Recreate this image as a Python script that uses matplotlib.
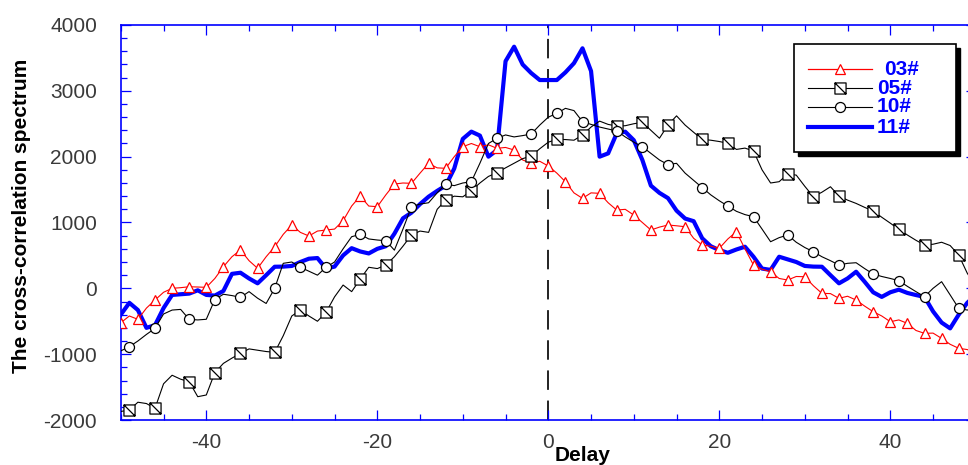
import numpy as np
import matplotlib
matplotlib.use("Agg")
import matplotlib.pyplot as plt
from matplotlib.path import Path
from matplotlib.patches import Rectangle
from matplotlib.lines import Line2D

plt.rcParams["axes.unicode_minus"] = False

# ---- data -------------------------------------------------------------
delay = np.arange(-50, 51)

s03 = [-523, -420, -471, -300, -178, -60, 0, 10, 24, 20,
       15, 150, 328, 480, 582, 420, 304, 480, 632, 820,
       962, 850, 795, 870, 886, 900, 1027, 1250, 1402, 1250,
       1240, 1420, 1584, 1600, 1595, 1750, 1899, 1830, 1823, 2000,
       2151, 2200, 2151, 2180, 2127, 2140, 2101, 1950, 1899, 1930,
       1858, 1750, 1619, 1450, 1367, 1450, 1443, 1300, 1189, 1200,
       1113, 1000, 886, 930, 962, 950, 936, 760, 658, 640,
       608, 750, 860, 600, 354, 290, 252, 150, 126, 180,
       176, 40, -76, -80, -152, -120, -178, -270, -355, -420,
       -507, -480, -532, -640, -684, -680, -760, -850, -911, -930, -980]

s05 = [-1870, -1849, -1730, -1750, -1823, -1450, -1320, -1380, -1419, -1646,
       -1620, -1280, -1140, -1060, -987, -920, -940, -960, -972, -720,
       -420, -330, -420, -500, -365, -130, 50, -50, 140, 320,
       300, 354, 480, 640, 810, 870, 850, 1200, 1341, 1400,
       1390, 1483, 1600, 1700, 1756, 1830, 1900, 1970, 2010, 2120,
       2220, 2263, 2260, 2250, 2329, 2450, 2540, 2490, 2465, 2470,
       2500, 2521, 2400, 2280, 2481, 2620, 2480, 2370, 2263, 2250,
       2230, 2203, 2110, 2130, 2086, 1800, 1600, 1620, 1736, 1720,
       1550, 1392, 1460, 1543, 1402, 1340, 1290, 1230, 1174, 1080,
       990, 896, 810, 730, 658, 670, 700, 650, 506, 230, 30]

s10 = [-950, -887, -800, -700, -608, -390, -330, -320, -471, -480,
       -470, -170, -90, -110, -137, -50, -150, -230, 0, 380,
       400, 320, 260, 200, 319, 400, 600, 784, 820, 750,
       734, 723, 580, 900, 1240, 1280, 1300, 1450, 1584, 1560,
       1600, 1620, 1900, 2200, 2279, 2330, 2300, 2320, 2344, 2480,
       2600, 2658, 2734, 2700, 2532, 2490, 2450, 2420, 2390, 2300,
       2220, 2151, 2050, 1950, 1880, 1899, 1750, 1640, 1530, 1420,
       1330, 1250, 1170, 1120, 1088, 900, 708, 770, 810, 700,
       620, 556, 480, 420, 354, 380, 389, 300, 217, 180,
       150, 116, 30, -50, -127, 0, 101, -100, -304, -330, -300]

s11 = [-400, -220, -330, -600, -560, -300, -100, -90, -80, -30,
       -100, -110, -40, 220, 237, 150, 76, 200, 328, 330,
       340, 400, 450, 460, 300, 330, 500, 610, 560, 530,
       600, 640, 830, 1063, 1150, 1280, 1392, 1480, 1560, 1820,
       2270, 2380, 2320, 2000, 2101, 3450, 3670, 3400, 3270, 3164,
       3164, 3164, 3280, 3420, 3646, 3300, 2000, 2050, 2354, 2379,
       2250, 1950, 1560, 1450, 1370, 1180, 1060, 1020, 760, 640,
       580, 540, 590, 632, 480, 300, 280, 480, 440, 400,
       340, 330, 328, 200, 76, 150, 252, 100, -60, -130,
       -60, -20, -70, -102, -130, -350, -520, -608, -400, -220, -100]

labels = ["03#", "05#", "10#", "11#"]

# ---- styles -------------------------------------------------------------
BLUE = "#0000ff"
RED = "#ff0000"
TICK_TXT = "#3a3a3a"
FONT = "Liberation Sans"

# square with a diagonal stroke
box_marker = Path(
    [(-1, -1), (1, -1), (1, 1), (-1, 1), (-1, -1), (-1, 1), (1, -1)],
    [Path.MOVETO, Path.LINETO, Path.LINETO, Path.LINETO, Path.CLOSEPOLY,
     Path.MOVETO, Path.LINETO])

sq_marks = [int(round(1 + 10 * k / 3)) for k in range(30)]

W, H = 968, 465
fig = plt.figure(figsize=(W / 100, H / 100), dpi=100)
fig.patch.set_facecolor("white")

ax_l, ax_r, ax_t, ax_b = 120.8, 975.8, 25, 420
ax = fig.add_axes([ax_l / W, 1 - ax_b / H, (ax_r - ax_l) / W, (ax_b - ax_t) / H])

ax.axvline(0, color="#222222", lw=1.4, dashes=(10, 5.5), zorder=1)

ax.plot(delay, s11, color=BLUE, lw=3.0, solid_joinstyle="round", zorder=2)
ax.plot(delay, s03, color=RED, lw=0.8, marker="^", ms=7.5, mfc="white",
        mec=RED, mew=0.9, markevery=2, zorder=3)
ax.plot(delay, s05, color="black", lw=0.8, marker=box_marker, ms=8, mfc="white",
        mec="black", mew=0.9, markevery=sq_marks, zorder=3)
ax.plot(delay, s10, color="black", lw=0.8, marker="o", ms=7.2, mfc="white",
        mec="black", mew=0.9, markevery=sq_marks, zorder=4)

ax.set_xlim(-50, 50)
ax.set_ylim(-2000, 4000)
ax.set_xticks(np.arange(-40, 41, 20))
ax.set_xticks(np.arange(-50, 51, 5), minor=True)
ax.set_yticks(np.arange(-2000, 4001, 1000))
ax.set_yticks(np.arange(-2000, 4001, 200), minor=True)

for sp in ax.spines.values():
    sp.set_color(BLUE)
    sp.set_linewidth(1.2)

ax.tick_params(which="both", direction="in", color=BLUE, top=True, right=True,
               width=0.9)
ax.tick_params(which="major", length=7.5, labelsize=15, labelcolor=TICK_TXT)
ax.tick_params(which="minor", length=4.5)
ax.tick_params(axis="y", pad=17)
ax.tick_params(axis="x", pad=9)
for lab in ax.get_xticklabels() + ax.get_yticklabels():
    lab.set_fontfamily(FONT)

# axis titles
fig.text(22 / W, 1 - 216 / H, "The cross-correlation spectrum", rotation=90,
         ha="center", va="center", fontsize=15, fontweight="bold",
         family=FONT, color="black")
fig.text(555 / W, 1 - 446 / H, "Delay", ha="left", va="top", fontsize=15,
         fontweight="bold", family=FONT, color="black")

# legend box with drop shadow
def fx(x):
    return x / W

def fy(y):
    return 1 - y / H

bx0, by0, bx1, by1 = 794, 44, 956, 152
fig.patches.append(Rectangle((fx(bx0 + 4), fy(by1 + 4)), (bx1 - bx0) / W,
                             (by1 - by0) / H, transform=fig.transFigure,
                             facecolor="black", edgecolor="black", zorder=10))
fig.patches.append(Rectangle((fx(bx0), fy(by1)), (bx1 - bx0) / W,
                             (by1 - by0) / H, transform=fig.transFigure,
                             facecolor="white", edgecolor="black", lw=1.2,
                             zorder=11))

rows = [69, 88, 107, 127]
styles = [
    dict(color=RED, lw=0.9, marker="^", ms=7.5, mfc="white", mec=RED, mew=0.9),
    dict(color="black", lw=0.8, marker=box_marker, ms=8, mfc="white", mec="black", mew=0.9),
    dict(color="black", lw=0.8, marker="o", ms=7.2, mfc="white", mec="black", mew=0.9),
    dict(color=BLUE, lw=3.0),
]
text_x = [884, 877, 877, 877]
for y, st, lab, tx in zip(rows, styles, labels, text_x):
    ln = Line2D([fx(808), fx(840), fx(872)], [fy(y)] * 3, transform=fig.transFigure,
                zorder=12, markevery=[1] if "marker" in st else None, **st)
    fig.lines.append(ln)
    fig.text(fx(tx), fy(y), lab, ha="left", va="center", fontsize=15,
             fontweight="bold", family=FONT, color=BLUE, zorder=12)

fig.savefig("out.png", dpi=100, facecolor="white")
